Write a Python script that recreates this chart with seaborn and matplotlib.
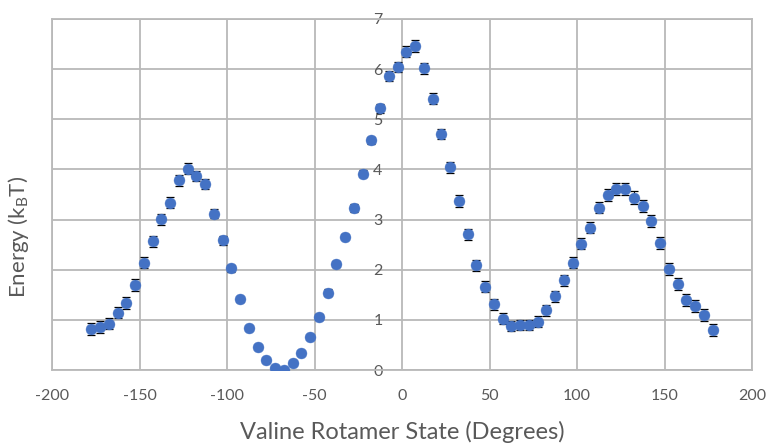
import numpy as np
import pandas as pd
import matplotlib
matplotlib.use("Agg")
import matplotlib.pyplot as plt
import seaborn as sns

# Rotamer angle (degrees), free energy (k_B T) and its uncertainty
angles = [
    -177.5, -172.5, -167.5, -162.5, -157.5, -152.5, -147.5, -142.5, -137.5,
    -132.5, -127.5, -122.5, -117.5, -112.5, -107.5, -102.5, -97.5, -92.5,
    -87.5, -82.5, -77.5, -72.5, -67.5, -62.5, -57.5, -52.5, -47.5, -42.5,
    -37.5, -32.5, -27.5, -22.5, -17.5, -12.5, -7.5, -2.5,
    2.5, 7.5, 12.5, 17.5, 22.5, 27.5, 32.5, 37.5, 42.5, 47.5, 52.5, 57.5,
    62.5, 67.5, 72.5, 77.5, 82.5, 87.5, 92.5, 97.5, 102.5, 107.5, 112.5,
    117.5, 122.5, 127.5, 132.5, 137.5, 142.5, 147.5, 152.5, 157.5, 162.5,
    167.5, 172.5, 177.5,
]
energy = [
    0.81, 0.86, 0.92, 1.14, 1.34, 1.70, 2.14, 2.57, 3.01,
    3.34, 3.78, 4.01, 3.87, 3.70, 3.12, 2.59, 2.03, 1.41,
    0.84, 0.46, 0.19, 0.03, 0.00, 0.14, 0.34, 0.66, 1.06, 1.54,
    2.11, 2.66, 3.24, 3.91, 4.58, 5.22, 5.86, 6.04,
    6.35, 6.46, 6.02, 5.41, 4.70, 4.04, 3.37, 2.71, 2.09, 1.66, 1.31, 1.02,
    0.87, 0.89, 0.89, 0.96, 1.19, 1.47, 1.79, 2.14, 2.52, 2.84, 3.24,
    3.49, 3.61, 3.61, 3.44, 3.28, 2.97, 2.54, 2.01, 1.72, 1.39,
    1.27, 1.09, 0.80,
]
energy_err = [
    0.12, 0.12, 0.11, 0.11, 0.12, 0.12, 0.11, 0.11, 0.11,
    0.11, 0.11, 0.11, 0.10, 0.10, 0.09, 0.09, 0.07, 0.05,
    0.04, 0.04, 0.03, 0.03, 0.02, 0.03, 0.03, 0.04, 0.06, 0.07,
    0.06, 0.05, 0.08, 0.07, 0.07, 0.09, 0.10, 0.10,
    0.11, 0.12, 0.11, 0.11, 0.10, 0.11, 0.12, 0.11, 0.11, 0.11, 0.11, 0.11,
    0.10, 0.10, 0.10, 0.11, 0.11, 0.11, 0.11, 0.11, 0.11, 0.11, 0.11,
    0.12, 0.12, 0.12, 0.12, 0.12, 0.12, 0.12, 0.12, 0.12, 0.12,
    0.12, 0.12, 0.12,
]

x_ticks = [-200, -150, -100, -50, 0, 50, 100, 150, 200]
y_ticks = [0, 1, 2, 3, 4, 5, 6, 7]

df = pd.DataFrame({"angle": angles, "energy": energy, "err": energy_err})

sns.set_theme(style="white")
plt.rcParams["font.family"] = ["Lato", "DejaVu Sans"]
plt.rcParams["axes.unicode_minus"] = False

grid_col = "#b9b9b9"
text_col = "#595959"
point_col = "#4472C4"

fig = plt.figure(figsize=(7.67, 4.45), dpi=100)
ax = fig.add_axes([52 / 767, 1 - 370 / 445, 700 / 767, 351 / 445])

# Error bars sit underneath the markers, so only the caps poke out
ax.errorbar(df["angle"], df["energy"], yerr=df["err"], fmt="none",
            ecolor="black", elinewidth=0.8, capsize=3.2, capthick=0.9, zorder=2)
sns.scatterplot(data=df, x="angle", y="energy", ax=ax, color=point_col,
                s=62, edgecolor=point_col, linewidth=0.3, zorder=3)

ax.set_xlim(-200, 200)
ax.set_ylim(0, 7)
ax.set_xticks(x_ticks)
ax.set_yticks(y_ticks)

ax.grid(True, color=grid_col, linewidth=1.3)
ax.set_axisbelow(True)

# Vertical axis crosses at x = 0, so its labels sit beside that line
ax.spines["left"].set_position(("data", 0))
ax.spines["left"].set_visible(False)
for side in ("top", "right", "bottom"):
    ax.spines[side].set_color(grid_col)
    ax.spines[side].set_linewidth(1.3)
ax.axvline(-200, color=grid_col, linewidth=1.3, clip_on=False, zorder=0.5)

ax.tick_params(axis="y", length=0, pad=14, labelsize=11.5, labelcolor=text_col)
ax.tick_params(axis="x", length=0, pad=14, labelsize=11.5, labelcolor=text_col)

ax.set_xlabel("Valine Rotamer State (Degrees)", fontsize=17, color=text_col)
ax.xaxis.set_label_coords(0.5, -0.145)
ax.set_ylabel(r"Energy (k$_\mathregular{B}$T)", fontsize=16, color=text_col)
ax.yaxis.set_label_coords(-0.03, 0.38)

fig.savefig("out.png", dpi=100)
